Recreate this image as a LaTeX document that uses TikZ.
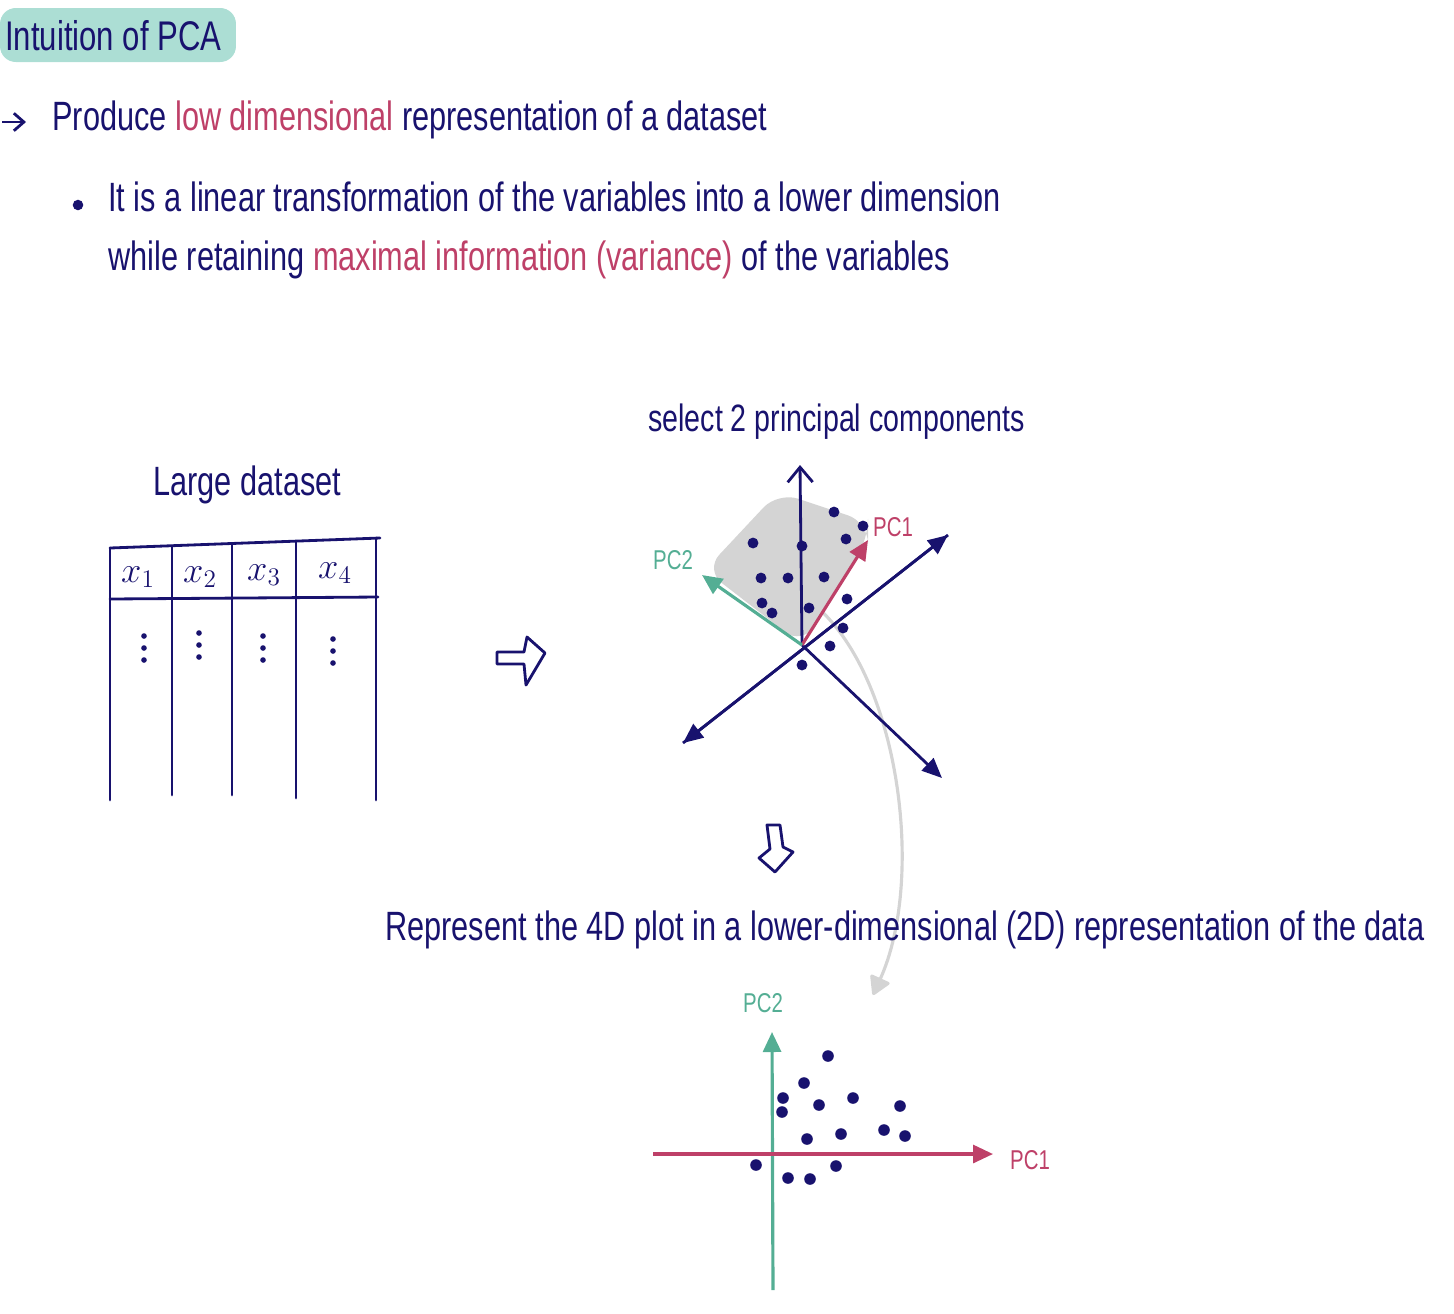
\documentclass[tikz,border=0pt]{standalone}
\usepackage{fontspec}
\setmainfont{Liberation Sans}[FakeStretch=0.75]
\usetikzlibrary{arrows.meta,positioning}
\definecolor{inknavy}{RGB}{24,18,110}
\definecolor{hlpink}{RGB}{190,64,104}
\definecolor{pcteal}{RGB}{84,174,148}
\definecolor{titleteal}{RGB}{172,222,212}
\definecolor{curvegray}{RGB}{212,212,212}
\tikzset{
  hand/.style={text=inknavy,font=\fontsize{23.3}{26}\selectfont,
    inner sep=0pt,anchor=west},
  titlebox/.style={fill=titleteal,rounded corners=9pt,minimum width=4.72cm,
    minimum height=1.08cm},
  colhead/.style={text=inknavy,font=\fontsize{20}{22}\selectfont,inner sep=1pt},
  pclab/.style={font=\fontsize{15.5}{18}\selectfont,inner sep=0pt},
  inkline/.style={draw=inknavy,line width=1.6pt,line cap=round},
  axisflow/.style={-{Triangle[length=4mm,width=3.4mm]},line width=1.6pt,draw=inknavy},
  openflow/.style={-{Straight Barb[length=3mm,width=5mm]},line width=1.6pt,draw=inknavy},
  pc1flow/.style={-{Triangle[length=4mm,width=3.6mm]},line width=1.8pt,draw=hlpink},
  pc2flow/.style={-{Triangle[length=4mm,width=3.6mm]},line width=1.8pt,draw=pcteal},
  grayflow/.style={-{Triangle[round,length=4mm,width=4.5mm]},line width=1.8pt,draw=curvegray},
  hollow/.style={draw=inknavy,line width=1.6pt,line join=round,fill=white},
  dot/.style={fill=inknavy}
}
\begin{document}
\begin{tikzpicture}[x=0.02cm,y=-0.02cm]
  \useasboundingbox (0,0) rectangle (1454,1313);
  \node[titlebox] (titlebg) at (118,35) {};
  \node[hand,font=\fontsize{23.6}{26}\selectfont] (title) at (5,36) {Intuition of PCA};
  \coordinate (ptail) at (2,122);
  \coordinate (phead) at (26,122);
  \draw[openflow,-{Straight Barb[length=2mm,width=3.5mm]}] (ptail)--(phead);
  \node[hand] (prod) at (52,120) {Produce \textcolor{hlpink}{low dimensional} representation of a dataset};
  \node[circle,fill=inknavy,inner sep=0pt,minimum size=6pt] (bul) at (78,205) {};
  \node[hand] (lin) at (108,197) {It is a linear transformation of the variables into a lower dimension};
  \node[hand] (ret) at (108,260) {while retaining \textcolor{hlpink}{maximal information (variance)} of the variables};
  \node[hand] (large) at (153,485) {Large dataset};
  \draw[inkline] (110,548)--(380,538);
  \draw[inkline] (110,599)--(378,597);
  \foreach \x/\t/\b in {110/548/800,172/546/795,232/544/795,296/542/798,376/538/800}
    \draw[inkline] (\x,\t)--(\x,\b);
  \node[colhead] (xa) at (138,577) {$x_1$};
  \node[colhead] (xb) at (200,577) {$x_2$};
  \node[colhead] (xc) at (264,575) {$x_3$};
  \node[colhead] (xd) at (335,573) {$x_4$};
  \foreach \x/\y in {144/636,199/633,263/636,333/639}
    \foreach \k in {0,1,2}
      \fill[dot] (\x,\y+12*\k) circle[radius=1.6pt];
  \draw[hollow] (497,652)--(524,652)--(527,637)--(545,653)--(526,685)--(524,664)--(497,664)--cycle;
  \node[hand,font=\fontsize{21.7}{24}\selectfont] (sel) at (648,422) {select 2 principal components};
  \fill[curvegray,rounded corners=12pt] (705,570)--(778,492)--(868,522)--(868,540)--(802,645)--cycle;
  \coordinate (ctail) at (817,607);
  \coordinate (chead) at (873,995);
  \draw[grayflow] (ctail) .. controls (900,680) and (925,880) .. (chead);
  \coordinate (o) at (802,645);
  \coordinate (up) at (800,465);
  \coordinate (ll) at (683,743);
  \coordinate (ur) at (948,535);
  \coordinate (lr) at (942,778);
  \draw[openflow] (o)--(up);
  \draw[axisflow] (ur)--(ll);
  \draw[axisflow] (ll)--(ur);
  \draw[axisflow] (o)--(lr);
  \foreach \p in {(834,512),(863,526),(846,539),(753,543),(802,546),(761,578),(788,578),
    (824,577),(847,599),(762,603),(772,613),(809,608),(843,628),(830,646),(802,665)}
    \fill[dot] \p circle[radius=3.1pt];
  \coordinate (pca) at (868,540);
  \coordinate (pcb) at (702,575);
  \draw[pc1flow] (o)--(pca);
  \draw[pc2flow] (o)--(pcb);
  \node[pclab,text=hlpink] (pcalab) at (893,527) {PC1};
  \node[pclab,text=pcteal] (pcblab) at (673,560) {PC2};
  \draw[hollow] (767,825)--(780,825)--(783,847)--(793,852)--(775,872)--(759,858)--(770,849)--cycle;
  \node[hand] (rep) at (385,930) {Represent the 4D plot in a lower-dimensional (2D) representation of the data};
  \coordinate (pc2bot) at (773,1290);
  \coordinate (pc2top) at (772,1032);
  \coordinate (pc1left) at (653,1154);
  \coordinate (pc1right) at (993,1154);
  \draw[pc2flow] (pc2bot)--(pc2top);
  \draw[pc1flow] (pc1left)--(pc1right);
  \node[pclab,text=pcteal] (pcbtop) at (763,1003) {PC2};
  \node[pclab,text=hlpink] (pcaright) at (1030,1160) {PC1};
  \foreach \p in {(828,1056),(804,1083),(783,1098),(782,1112),(819,1105),(853,1098),(900,1106),
    (884,1130),(905,1136),(841,1134),(807,1139),(756,1165),(788,1178),(810,1179),(836,1166)}
    \fill[dot] \p circle[radius=3.3pt];
\end{tikzpicture}
\end{document}
